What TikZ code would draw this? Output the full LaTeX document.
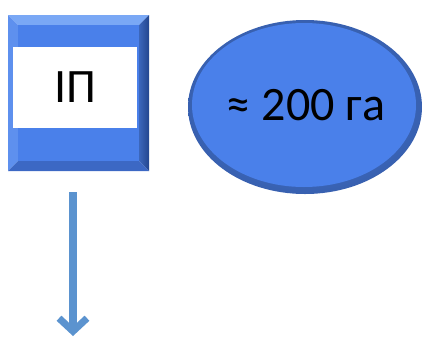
\documentclass[tikz,border=0pt]{standalone}
\usepackage{fontspec}
\setmainfont{Carlito}
\usetikzlibrary{arrows.meta,shapes.geometric}
\definecolor{face}{HTML}{4A80EA}
\definecolor{bevtop}{HTML}{7AA8F5}
\definecolor{bevleft}{HTML}{5E90EE}
\definecolor{bevright}{HTML}{23468E}
\definecolor{bevbot}{HTML}{3C68C4}
\definecolor{arrowblue}{HTML}{5B93CF}
\tikzset{
  lbl/.style={font=\fontsize{48}{52}\selectfont, text=black},
  conn/.style={draw=arrowblue, line width=7.5pt, -{Straight Barb[length=13pt,width=28pt,line width=7pt]}}
}
\begin{document}
\begin{tikzpicture}[x=1pt,y=-1pt]
\useasboundingbox (0,0) rectangle (423,338);
% beveled square
\fill[bevtop] (8,15) -- (149,15) -- (139,25) -- (18,25) -- cycle;
\fill[bevleft] (8,15) -- (18,25) -- (18,161) -- (8,171) -- cycle;
\shade[left color=face!80!black, right color=bevright] (149,15) -- (149,171) -- (139,161) -- (139,25) -- cycle;
\fill[bevbot] (8,171) -- (149,171) -- (139,161) -- (18,161) -- cycle;
\fill[face] (18,25) rectangle (139,161);
\node[fill=white, minimum width=124pt, minimum height=81pt, inner sep=0pt, lbl] (ip) at (75,87.5) {ІП};
% ellipse
\shade[inner color=face, outer color=face!75!black] (305,107) ellipse [x radius=117, y radius=87];
\fill[face] (304,105) ellipse [x radius=112, y radius=82];
\node[ellipse, minimum width=234pt, minimum height=174pt, inner sep=0pt, lbl] (ga) at (306,105) {≈ 200 га};
% arrow
\coordinate (a0) at (73,192);
\coordinate (a1) at (73,336);
\draw[conn] (a0) -- (a1);
\end{tikzpicture}
\end{document}
